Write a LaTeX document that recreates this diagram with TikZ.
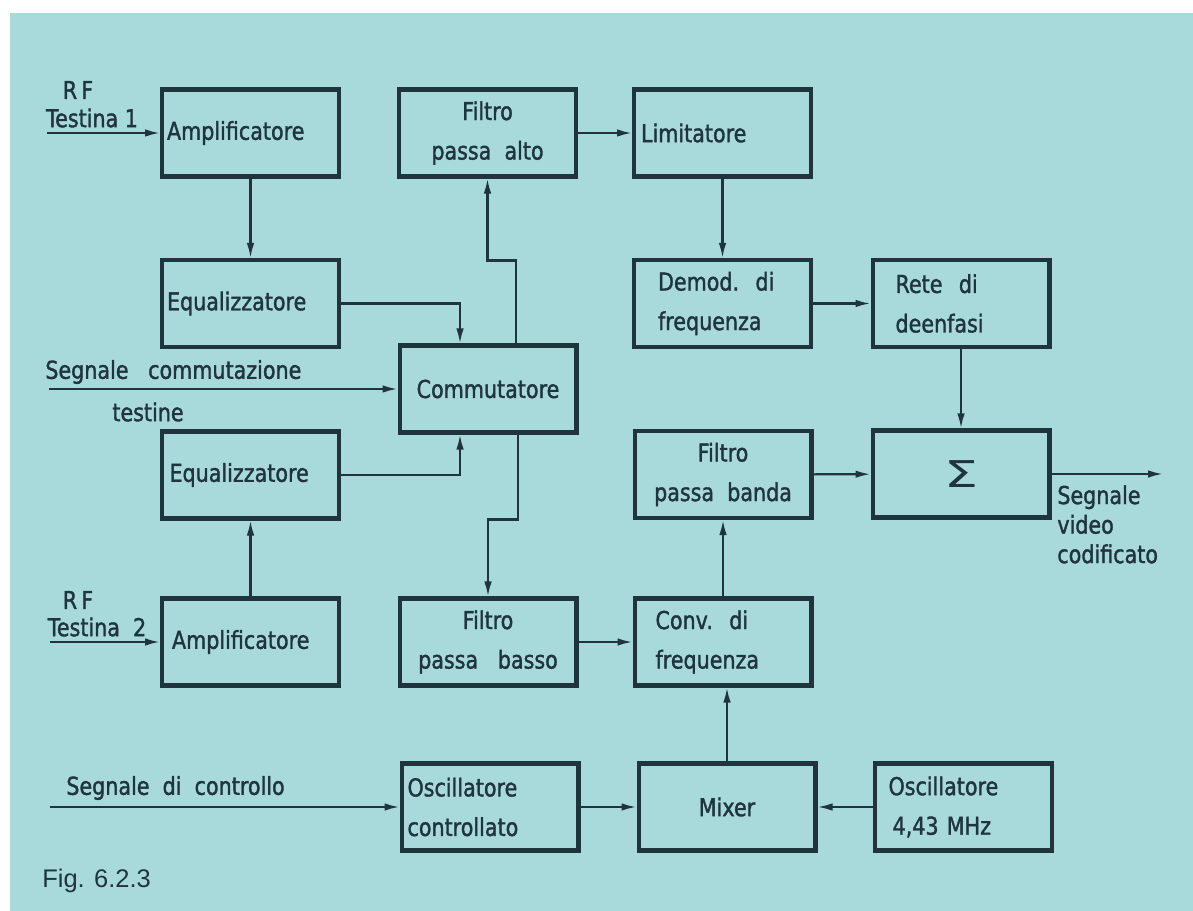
\documentclass[tikz,border=0pt]{standalone}
\usepackage{fontspec}
\setmainfont{DejaVu Sans}[FakeStretch=0.84,FakeBold=1.4]
\newfontfamily\figfont{Liberation Sans}
\usepackage{graphicx}
\usetikzlibrary{arrows.meta,positioning}
\definecolor{ink}{RGB}{32,52,62}
\definecolor{paper}{RGB}{168,218,220}
\newcommand{\bl}{\fontsize{14}{22.5}\selectfont}

\begin{document}
\begin{tikzpicture}[x=0.02cm,y=-0.02cm,
  blk/.style={draw=ink,line width=2.3pt,minimum width=3.54cm,minimum height=1.74cm,
    inner sep=0pt,font=\bl,text=ink},
  lblk/.style={blk,text width=#1,align=left},
  cblk/.style={blk,align=center},
  wire/.style={draw=ink,line width=1.2pt},
  conn/.style={wire,-{Latex[length=3mm,width=1.5mm]}},
  lbl/.style={font=\bl,text=ink,inner sep=0pt}]
  \fill[white] (0,0) rectangle (1193,911);
  \fill[paper] (10,13) rectangle (1193,911);
  \useasboundingbox (0,0) rectangle (1193,911);

  \node[lblk=3.34cm] (amp1) at (250.5,133) {Amplificatore};
  \node[cblk]        (hpf)  at (487.5,133) {Filtro\\passa~~alto};
  \node[lblk=3.26cm] (lim)  at (722.5,133) {Limitatore};
  \node[lblk=3.34cm] (eqa)  at (250.5,303.5) {Equalizzatore};
  \node[lblk=2.58cm] (dem)  at (722.5,303.5) {Demod.~~di\\frequenza};
  \node[lblk=2.62cm] (ret)  at (961,303.5) {Rete~~di\\deenfasi};
  \node[cblk]        (com)  at (488,389) {Commutatore};
  \node[lblk=3.24cm] (eqb)  at (250.5,475) {Equalizzatore};
  \node[cblk]        (bpf)  at (723,474.5) {Filtro\\passa~~banda};
  \node[cblk]        (sum)  at (961,474) {\scalebox{2.6}[1.5]{\fontspec{DejaVu Sans}[FakeStretch=0.84]Σ}};
  \node[lblk=3.14cm] (amp2) at (250.5,642) {Amplificatore};
  \node[cblk]        (lpf)  at (488,642) {Filtro\\passa~~~basso};
  \node[lblk=2.70cm] (cnv)  at (723,642) {Conv.~~di\\frequenza};
  \node[lblk=3.30cm] (osc)  at (490,807) {Oscillatore\\controllato};
  \node[cblk]        (mix)  at (727,807) {Mixer};
  \node[lblk=3.00cm] (ref)  at (963.5,807) {Oscillatore\\\,4,43 MHz};

  \coordinate (in1) at (47,133);
  \coordinate (in2) at (50,642);
  \coordinate (sw)  at (49,389);
  \coordinate (ctl) at (50,807);
  \coordinate (out) at (1163,474);

  \node[lbl] (rf1) at (78,90) {R\,F};
  \node[lbl] (ts1) at (92,118) {Testina 1};
  \node[lbl] (rf2) at (78,600) {R\,F};
  \node[lbl] (ts2) at (97,627) {Testina~~2};
  \node[lbl,anchor=west] (swl) at (45,372) {Segnale~~~commutazione};
  \node[lbl] (swt) at (148,412) {testine};
  \node[lbl,anchor=west] (ctll) at (66,788) {Segnale~~di~~controllo};
  \node[lbl,anchor=north west,align=left,font=\fontsize{14}{16.8}\selectfont] (outl) at (1057,485)
    {Segnale\\video\\codificato};
  \node[anchor=west,inner sep=0pt,text=ink,font=\figfont\fontsize{14.5}{16}\selectfont] (fig) at (42,881) {Fig. 6.2.3};

  \draw[conn] (in1) -- (amp1);
  \draw[conn] (in2) -- (amp2);
  \draw[conn] (sw) -- (com);
  \draw[conn] (ctl) -- (osc);
  \draw[conn] (amp1) -- (eqa);
  \draw[conn] (amp2) -- (eqb);
  \draw[conn] (eqa.east) -| ([xshift=-0.56cm]com.north);
  \draw[conn] (eqb.east) -| ([xshift=-0.56cm]com.south);
  \draw[conn] ([xshift=0.56cm]com.north) |- ([yshift=-1.64cm]hpf.south) -- (hpf.south);
  \draw[conn] ([xshift=0.6cm]com.south) |- ([yshift=1.54cm]lpf.north) -- (lpf.north);
  \draw[conn] (hpf) -- (lim);
  \draw[conn] (lim) -- (dem);
  \draw[conn] (dem) -- (ret);
  \draw[conn] (ret) -- (sum);
  \draw[conn] (bpf) -- (sum);
  \draw[conn] (sum) -- (out);
  \draw[conn] (lpf) -- (cnv);
  \draw[conn] (cnv) -- (bpf);
  \draw[conn] (mix.north) -- (mix.north |- cnv.south);
  \draw[conn] (osc) -- (mix);
  \draw[conn] (ref) -- (mix);
\end{tikzpicture}
\end{document}
